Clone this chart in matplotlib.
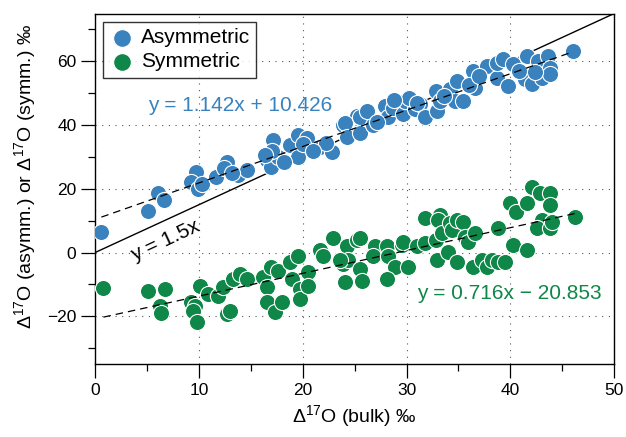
import numpy as np
import matplotlib
matplotlib.use("Agg")
import matplotlib.pyplot as plt
from matplotlib.ticker import MultipleLocator

plt.rcParams['font.family'] = ['Liberation Sans', 'DejaVu Sans']
plt.rcParams['mathtext.fontset'] = 'custom'
plt.rcParams['mathtext.rm'] = 'Liberation Sans'
plt.rcParams['mathtext.default'] = 'regular'

# data
asym_x = [0.6, 5.1, 6.1, 6.6, 9.7, 9.2, 9.9, 10.3, 11.6, 12.7, 12.4, 13.8, 14.6,
          16.6, 16.9, 17.1, 17.6, 18.8, 19.5, 20.4, 19.5, 21.7, 22.8, 23.9, 24.4,
          25.2, 24.1, 24.3, 25.5, 25.5, 26.8, 27.9, 28.2, 28.7, 29.7, 29.9, 30.8,
          31.3, 31.8, 32.8, 32.9, 33.2, 34.2, 34.7, 34.9, 35.4, 36.4, 36.6, 37.8,
          38.7, 38.7, 39.3, 39.8, 40.3, 41.4, 41.6, 42.1, 42.7, 43.1, 43.6, 43.8,
          43.8, 46.0, 17.0, 18.2, 20.0, 22.2, 26.2, 27.2, 30.2, 33.6, 36.0, 37.0,
          40.8, 42.4, 16.4, 13.2, 21.0, 28.8, 31.0]
asym_y = [6.5, 13.1, 18.7, 16.5, 25.2, 22.0, 20.0, 21.5, 23.7, 28.3, 26.6, 24.3,
          25.9, 29.0, 26.8, 35.2, 30.0, 33.6, 36.8, 35.8, 30.0, 33.0, 31.5, 39.9,
          36.8, 43.0, 40.5, 36.1, 37.4, 42.4, 39.9, 46.0, 42.4, 45.5, 43.6, 47.7,
          45.0, 46.7, 42.4, 50.8, 44.5, 47.7, 51.4, 47.7, 53.9, 47.7, 57.0, 51.7,
          58.6, 54.8, 59.5, 60.7, 52.3, 59.2, 54.5, 61.7, 53.0, 60.1, 54.8, 61.7,
          58.0, 56.0, 63.2, 32.0, 28.5, 34.0, 34.5, 44.5, 41.0, 48.5, 49.0, 52.5,
          55.5, 57.0, 56.5, 30.5, 25.0, 32.0, 48.0, 47.0]

sym_x = [0.8, 5.1, 6.7, 6.2, 6.3, 9.2, 9.6, 9.4, 9.8, 10.1, 10.9, 11.8, 12.3,
         12.7, 13.0, 13.3, 14.0, 14.6, 16.2, 16.6, 16.6, 16.9, 17.3, 17.6, 18.0,
         18.8, 19.0, 19.5, 19.7, 19.7, 20.5, 20.5, 21.7, 22.0, 22.9, 23.9, 24.3,
         24.4, 24.1, 25.2, 23.6, 25.5, 25.5, 25.7, 27.0, 26.8, 28.1, 28.2, 28.9,
         28.1, 29.6, 30.1, 29.7, 31.0, 31.8, 31.8, 32.8, 33.2, 33.0, 32.9, 33.4,
         34.2, 34.0, 34.4, 34.9, 34.9, 35.4, 35.6, 35.9, 36.6, 36.4, 37.3, 37.8,
         38.2, 38.8, 39.5, 38.8, 40.0, 40.5, 40.3, 41.6, 41.6, 42.1, 42.9, 43.8,
         43.8, 43.1, 42.6, 43.8, 44.0, 46.2]
sym_y = [-11.2, -12.2, -11.5, -16.8, -19.0, -15.6, -16.8, -18.4, -21.8, -10.6,
         -13.1, -13.7, -10.9, -19.3, -18.4, -8.4, -6.9, -8.4, -7.8, -10.9, -15.6,
         -4.4, -18.7, -5.9, -15.6, -3.1, -8.4, -1.2, -11.5, -14.6, -6.2, -10.6,
         0.9, -1.2, 4.7, -3.7, 1.9, -2.2, -9.3, 4.0, -2.2, 4.7, -5.3, -9.0, 1.9,
         -1.2, 1.9, -1.2, -4.4, -8.4, 2.5, -4.4, 3.4, 1.9, 10.9, 3.1, 4.0, 11.8,
         10.3, -2.2, 6.2, 9.3, 0.3, 7.2, -3.1, 10.3, 9.7, 5.0, 3.4, 6.2, -4.4,
         -2.2, -4.4, -2.2, -3.1, -3.1, 7.8, 15.6, 12.8, 2.5, 0.9, 15.6, 20.6,
         18.7, 18.7, 15.0, 10.3, 7.8, 7.8, 9.7, 11.2]

blue = '#3a82bd'
green = '#0f8748'

fig = plt.figure(figsize=(6.26, 4.37), dpi=100)
ax = fig.add_axes([0.152, 0.167, 0.829, 0.802])

ax.scatter(asym_x, asym_y, s=135, c=blue, edgecolors='white', linewidths=0.8,
           label='Asymmetric', zorder=3)
ax.scatter(sym_x, sym_y, s=135, c=green, edgecolors='white', linewidths=0.8,
           label='Symmetric', zorder=3)

# fit lines over the data range
xa = np.array([min(asym_x), max(asym_x)])
ax.plot(xa, 1.142 * xa + 10.426, color='black', lw=0.9, ls=(0, (6, 4)), zorder=4)
xs = np.array([min(sym_x), max(sym_x)])
ax.plot(xs, 0.716 * xs - 20.853, color='black', lw=0.9, ls=(0, (6, 4)), zorder=4)
x15 = np.array([0, 50])
ax.plot(x15, 1.5 * x15, color='black', lw=1.0, zorder=2)

ax.text(5.1, 46, 'y = 1.142x + 10.426', color=blue, fontsize=15, va='center')
ax.text(31.0, -13, 'y = 0.716x \u2212 20.853', color=green, fontsize=15, va='center')
ax.text(6.8, 3.8, 'y = 1.5x', color='black', fontsize=15, rotation=25,
        ha='center', va='center')

ax.set_xlim(0, 50)
ax.set_ylim(-35, 75)
ax.xaxis.set_major_locator(MultipleLocator(10))
ax.xaxis.set_minor_locator(MultipleLocator(5))
ax.yaxis.set_major_locator(MultipleLocator(20))
ax.yaxis.set_minor_locator(MultipleLocator(10))
ax.tick_params(which='major', direction='out', length=10, width=0.9, labelsize=12.5)
ax.tick_params(which='minor', direction='out', length=5, width=0.9)
ax.grid(True, which='major', color='#555555', ls=(0, (1, 5)), lw=0.8)
for sp in ax.spines.values():
    sp.set_linewidth(1.0)

ax.set_xlabel('\u0394$^{17}$O (bulk) \u2030', fontsize=14)
ax.set_ylabel('\u0394$^{17}$O (asymm.) or \u0394$^{17}$O (symm.) \u2030', fontsize=14)
ax.yaxis.set_label_coords(-0.11, 0.534)

leg = ax.legend(loc='upper left', fontsize=15, frameon=True, fancybox=False,
                edgecolor='black', handletextpad=0.3, borderaxespad=0.4,
                borderpad=0.3, labelspacing=0.25, handlelength=1.2,
                markerscale=1.1)
leg.get_frame().set_linewidth(1.0)

fig.savefig('out.png', dpi=100)
